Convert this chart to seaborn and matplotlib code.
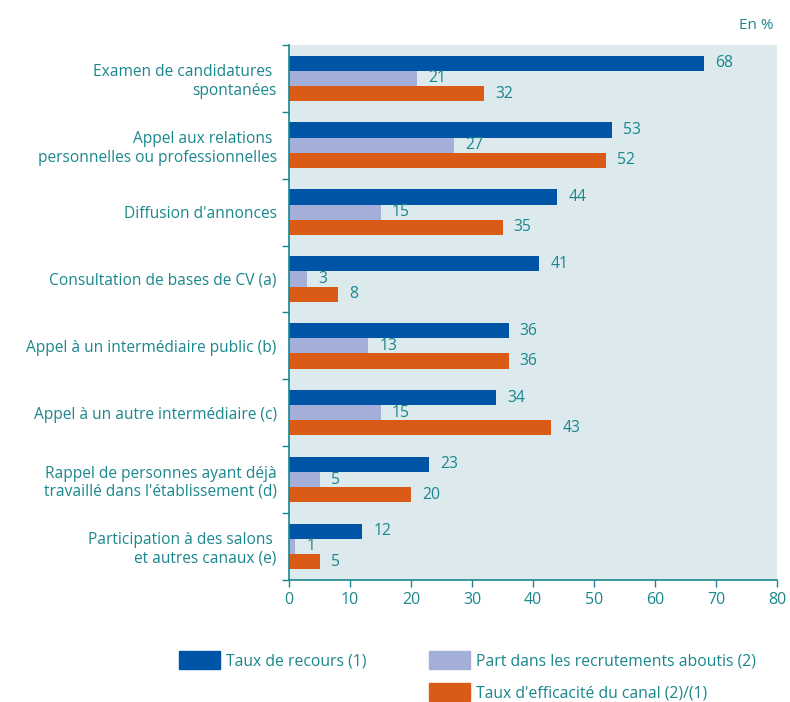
import pandas as pd
import matplotlib.pyplot as plt
import seaborn as sns
from matplotlib.patches import Patch

# Data
canaux = [
    "Examen de candidatures \nspontanées",
    "Appel aux relations \npersonnelles ou professionnelles",
    "Diffusion d'annonces",
    "Consultation de bases de CV (a)",
    "Appel à un intermédiaire public (b)",
    "Appel à un autre intermédiaire (c)",
    "Rappel de personnes ayant déjà\ntravaillé dans l'établissement (d)",
    "Participation à des salons \net autres canaux (e)",
]
taux_recours = [68, 53, 44, 41, 36, 34, 23, 12]
part_recrutements = [21, 27, 15, 3, 13, 15, 5, 1]
taux_efficacite = [32, 52, 35, 8, 36, 43, 20, 5]
series = ["Taux de recours (1)", "Part dans les recrutements aboutis (2)",
          "Taux d'efficacité du canal (2)/(1)"]
couleurs = ["#0054a6", "#a3afd8", "#d95b16"]

teal = "#1a878d"
fond = "#dce9ed"

df = pd.DataFrame({
    "Canal": canaux * 3,
    "Serie": [series[0]] * 8 + [series[1]] * 8 + [series[2]] * 8,
    "Valeur": taux_recours + part_recrutements + taux_efficacite,
})

sns.set_theme(style="white")
plt.rcParams['font.family'] = ['Open Sans', 'DejaVu Sans']

fig = plt.figure(figsize=(7.9, 7.02), dpi=100)
ax = fig.add_axes([0.366, 0.174, 0.6175, 0.762])
ax.set_facecolor(fond)

sns.barplot(data=df, y="Canal", x="Valeur", hue="Serie", order=canaux,
            hue_order=series, palette=couleurs, orient="h", width=0.68,
            saturation=1, edgecolor="none", linewidth=0, legend=False, ax=ax)

# Value labels
for cont in ax.containers:
    ax.bar_label(cont, labels=[f"{int(v)}" for v in cont.datavalues],
                 padding=8, color=teal, fontsize=11.3)

ax.set_xlim(0, 80)
ax.set_ylim(7.5, -0.5)
ax.set_xticks(range(0, 81, 10))
ax.set_xlabel("")
ax.set_ylabel("")

ax.set_yticks(range(len(canaux)))
ax.set_yticklabels(canaux, ha="right", multialignment="right")
ax.set_yticks([i - 0.5 for i in range(len(canaux) + 1)], minor=True)
ax.tick_params(axis="y", which="major", length=0, pad=9, labelsize=11.2,
               labelcolor=teal)
ax.tick_params(axis="y", which="minor", length=5, color=teal, width=1,
               left=True)
ax.tick_params(axis="x", length=5, color=teal, width=1, labelsize=11.5,
               labelcolor=teal, bottom=True, pad=4)

for s in ["top", "right"]:
    ax.spines[s].set_visible(False)
for s in ["left", "bottom"]:
    ax.spines[s].set_color(teal)
    ax.spines[s].set_linewidth(1.2)

fig.text(0.979, 0.963, "En %", color=teal, fontsize=11, ha="right", va="center")

handles = [Patch(color=couleurs[0]), Patch(color="none"),
           Patch(color=couleurs[1]), Patch(color=couleurs[2])]
labels = [series[0], "", series[1], series[2]]
leg = fig.legend(handles, labels, ncol=2, loc="upper left",
                 bbox_to_anchor=(0.2265, 0.073), frameon=False,
                 fontsize=11.3, handlelength=2.6, handleheight=1.4,
                 handletextpad=0.38, columnspacing=4.0, labelspacing=0.9,
                 borderaxespad=0, borderpad=0)
for t in leg.get_texts():
    t.set_color(teal)

fig.savefig("out.png", dpi=100)
